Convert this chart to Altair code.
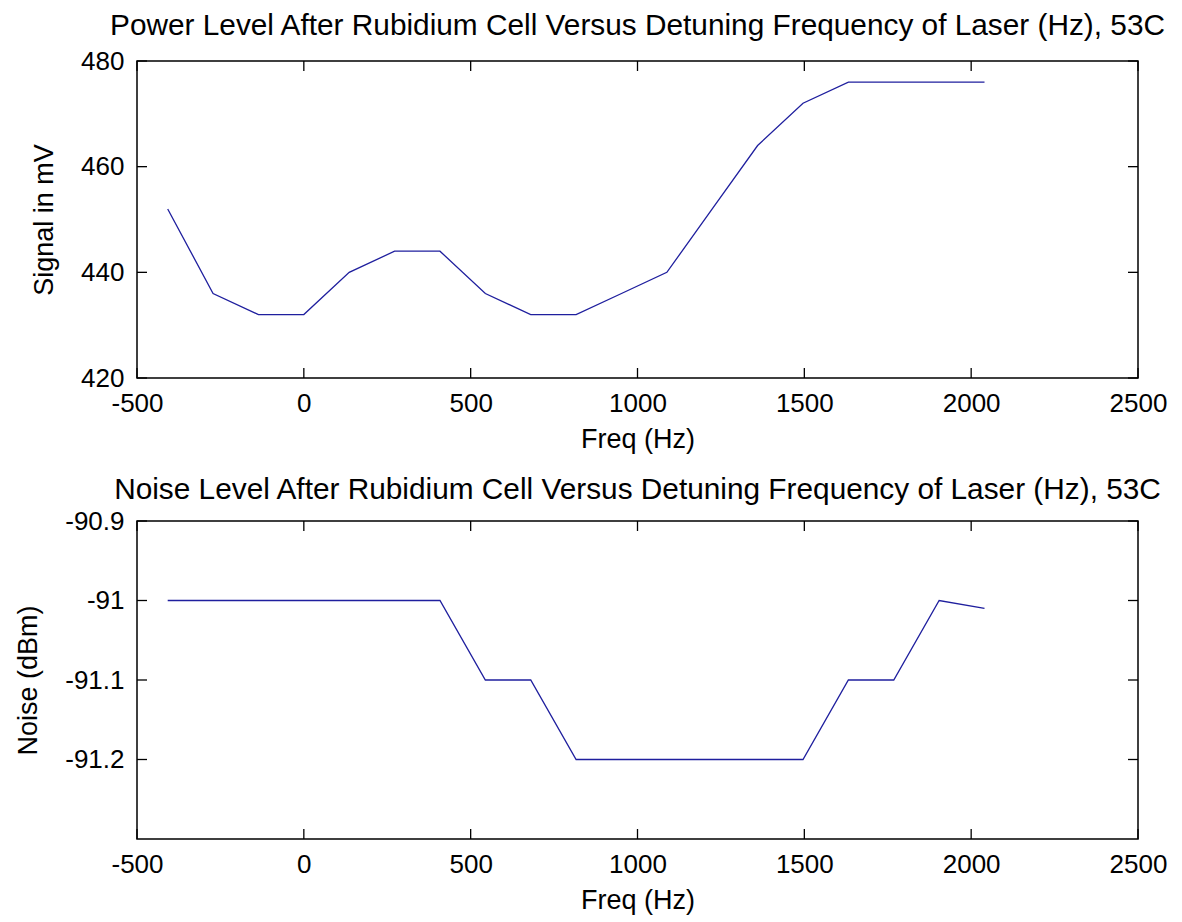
import altair as alt
import pandas as pd

freq = [-408, -272, -136, 0, 136, 272, 408, 544, 680, 816, 952, 1088,
        1224, 1360, 1496, 1632, 1768, 1904, 2040]
signal_mv = [452, 436, 432, 432, 440, 444, 444, 436, 432, 432, 436, 440,
             452, 464, 472, 476, 476, 476, 476]
noise_dbm = [-91.0, -91.0, -91.0, -91.0, -91.0, -91.0, -91.0, -91.1, -91.1,
             -91.2, -91.2, -91.2, -91.2, -91.2, -91.2, -91.1, -91.1, -91.0, -91.01]

x_ticks = [-500, 0, 500, 1000, 1500, 2000, 2500]
y1_ticks = [420, 440, 460, 480]
y2_ticks = [-90.9, -91.0, -91.1, -91.2]

title1 = "Power Level After Rubidium Cell Versus Detuning Frequency of Laser (Hz), 53C"
title2 = "Noise Level After Rubidium Cell Versus Detuning Frequency of Laser (Hz), 53C"

FONT = "Liberation Sans"
W, H1, H2 = 1001, 317, 318
TL = 10
LINE = "#1f1f9e"

xscale = alt.Scale(domain=[-500, 2500], nice=False, zero=False)


def panel(values, yticks, ydomain, ytitle, title, H, toff):
    df = pd.DataFrame({"freq": freq, "v": values})
    yscale = alt.Scale(domain=ydomain, nice=False, zero=False)
    xaxis = alt.Axis(values=x_ticks, title="Freq (Hz)", labelExpr="toString(datum.value)")
    yaxis = alt.Axis(values=yticks, title=ytitle, labelExpr="toString(datum.value)")
    line = alt.Chart(df).mark_line(color=LINE, strokeWidth=1.3).encode(
        x=alt.X("freq:Q", scale=xscale, axis=xaxis, title="Freq (Hz)"),
        y=alt.Y("v:Q", scale=yscale, axis=yaxis, title=ytitle),
    )
    xt = pd.DataFrame({"t": x_ticks})
    yt = pd.DataFrame({"t": yticks})
    xb = alt.Chart(xt).mark_rule(color="black", strokeWidth=1.3).encode(
        x=alt.X("t:Q", scale=xscale, axis=xaxis, title="Freq (Hz)"),
        y=alt.value(H), y2=alt.value(H - TL))
    xtp = alt.Chart(xt).mark_rule(color="black", strokeWidth=1.3).encode(
        x=alt.X("t:Q", scale=xscale, axis=xaxis, title="Freq (Hz)"),
        y=alt.value(0), y2=alt.value(TL))
    yl = alt.Chart(yt).mark_rule(color="black", strokeWidth=1.3).encode(
        y=alt.Y("t:Q", scale=yscale, axis=yaxis, title=ytitle),
        x=alt.value(0), x2=alt.value(TL))
    yr = alt.Chart(yt).mark_rule(color="black", strokeWidth=1.3).encode(
        y=alt.Y("t:Q", scale=yscale, axis=yaxis, title=ytitle),
        x=alt.value(W), x2=alt.value(W - TL))
    return alt.layer(line, xb, xtp, yl, yr).properties(
        width=W, height=H,
        title=alt.TitleParams(title, anchor="middle", offset=toff, fontSize=29.8,
                              font=FONT, fontWeight="normal", color="black"),
    )


top = panel(signal_mv, y1_ticks, [420, 480], "Signal in mV", title1, H1, 7)
bottom = panel(noise_dbm, y2_ticks, [-91.3, -90.9], "Noise (dBm)", title2, H2, 3)

chart = alt.vconcat(top, bottom, spacing=21).configure_view(
    stroke="black", strokeWidth=1.5
).configure_axis(
    ticks=False, grid=False, domain=False,
    labelFont=FONT, labelFontSize=26, labelColor="black",
    titleFont=FONT, titleFontSize=27, titleFontWeight="normal", titleColor="black",
    labelOverlap=False, labelFlush=False, labelBound=False,
).configure_axisY(labelPadding=13, titlePadding=22).configure_axisX(
    labelPadding=12, titlePadding=10
).properties(background="white", padding={"left": 5, "top": 2, "right": 5, "bottom": 2})

chart.save("out.html", embed_options={"renderer": "svg", "actions": False})
